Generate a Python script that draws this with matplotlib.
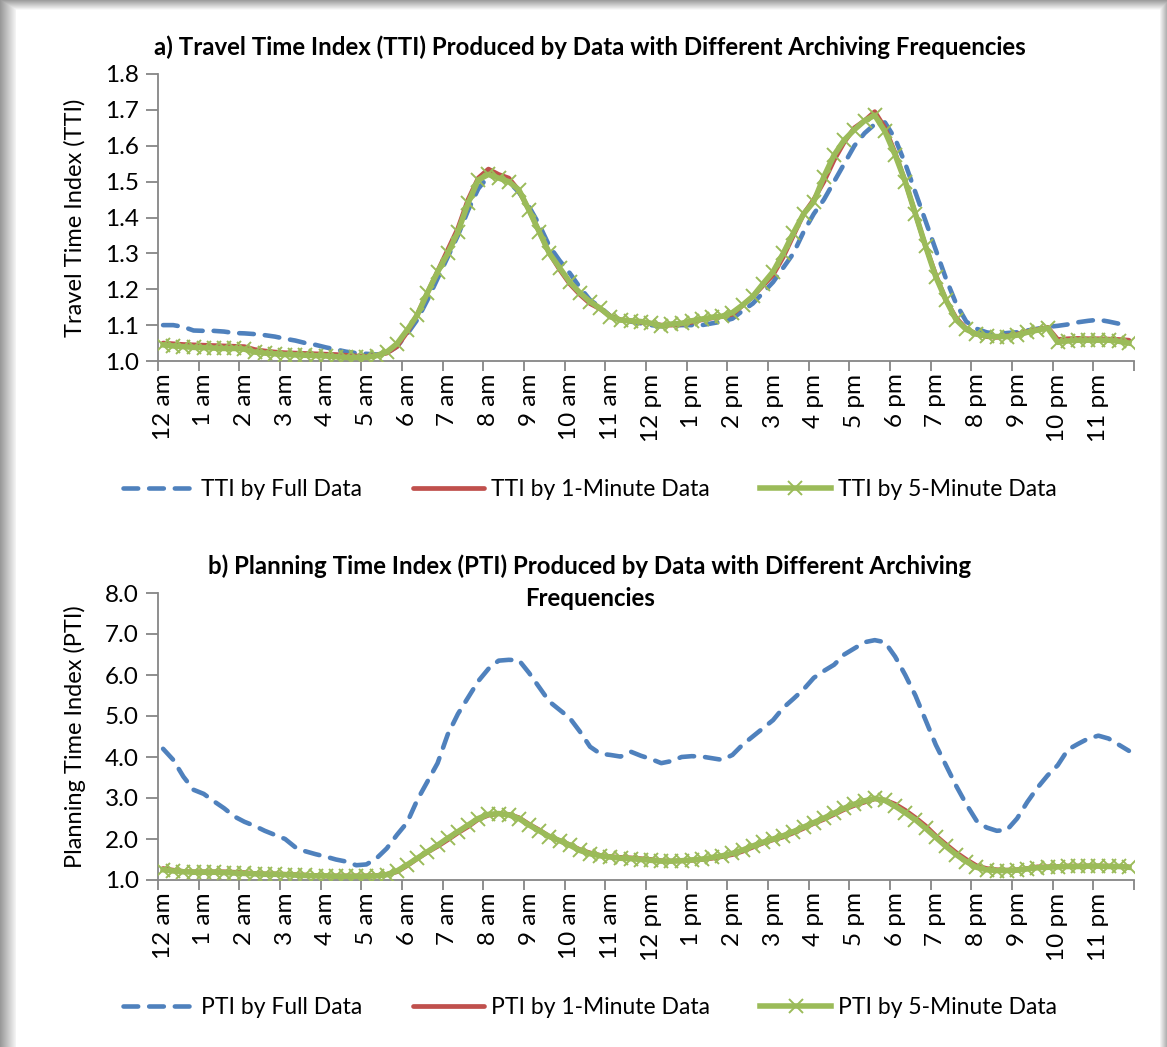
import numpy as np
import matplotlib.pyplot as plt

plt.rcParams['font.family'] = ['Lato', 'DejaVu Sans']

# Daten (15-Minuten-Intervalle, 96 Werte pro Reihe)
hour_labels = ['12 am', '1 am', '2 am', '3 am', '4 am', '5 am', '6 am', '7 am',
               '8 am', '9 am', '10 am', '11 am', '12 pm', '1 pm', '2 pm', '3 pm',
               '4 pm', '5 pm', '6 pm', '7 pm', '8 pm', '9 pm', '10 pm', '11 pm']

tti_full = [1.100, 1.100, 1.095, 1.085, 1.084, 1.084, 1.082, 1.078,
            1.077, 1.075, 1.072, 1.068, 1.062, 1.057, 1.050, 1.045,
            1.038, 1.032, 1.026, 1.022, 1.020, 1.018, 1.022, 1.040,
            1.075, 1.115, 1.170, 1.230, 1.290, 1.350, 1.420, 1.480,
            1.515, 1.515, 1.500, 1.470, 1.430, 1.380, 1.320, 1.280,
            1.245, 1.205, 1.170, 1.150, 1.125, 1.115, 1.110, 1.105,
            1.100, 1.097, 1.098, 1.100, 1.100, 1.100, 1.105, 1.110,
            1.118, 1.140, 1.160, 1.190, 1.220, 1.260, 1.300, 1.360,
            1.410, 1.450, 1.500, 1.550, 1.600, 1.635, 1.660, 1.665,
            1.620, 1.550, 1.470, 1.390, 1.310, 1.230, 1.160, 1.110,
            1.090, 1.080, 1.075, 1.078, 1.080, 1.085, 1.090, 1.095,
            1.098, 1.102, 1.108, 1.112, 1.115, 1.110, 1.104, 1.100]

tti_1min = [1.050, 1.048, 1.046, 1.045, 1.044, 1.043, 1.042, 1.041,
            1.040, 1.032, 1.028, 1.025, 1.023, 1.022, 1.021, 1.020,
            1.019, 1.018, 1.016, 1.014, 1.013, 1.016, 1.022, 1.040,
            1.080, 1.130, 1.190, 1.250, 1.310, 1.370, 1.450, 1.510,
            1.535, 1.520, 1.510, 1.475, 1.420, 1.360, 1.300, 1.255,
            1.215, 1.185, 1.160, 1.145, 1.125, 1.115, 1.112, 1.108,
            1.105, 1.100, 1.100, 1.103, 1.108, 1.115, 1.120, 1.124,
            1.130, 1.155, 1.180, 1.210, 1.240, 1.290, 1.350, 1.410,
            1.450, 1.500, 1.560, 1.610, 1.650, 1.670, 1.695, 1.650,
            1.580, 1.500, 1.410, 1.320, 1.240, 1.170, 1.120, 1.090,
            1.075, 1.068, 1.066, 1.070, 1.075, 1.082, 1.088, 1.094,
            1.060, 1.062, 1.063, 1.062, 1.062, 1.061, 1.060, 1.058]

tti_5min = [1.045, 1.042, 1.040, 1.038, 1.037, 1.036, 1.035, 1.035,
            1.033, 1.025, 1.022, 1.020, 1.018, 1.017, 1.016, 1.015,
            1.014, 1.012, 1.010, 1.010, 1.010, 1.015, 1.025, 1.048,
            1.086, 1.128, 1.190, 1.248, 1.300, 1.360, 1.440, 1.505,
            1.520, 1.510, 1.500, 1.477, 1.420, 1.360, 1.300, 1.260,
            1.220, 1.190, 1.165, 1.147, 1.123, 1.114, 1.112, 1.110,
            1.105, 1.098, 1.103, 1.105, 1.112, 1.117, 1.122, 1.125,
            1.135, 1.156, 1.180, 1.215, 1.249, 1.300, 1.357, 1.410,
            1.444, 1.514, 1.574, 1.616, 1.645, 1.670, 1.685, 1.640,
            1.575, 1.500, 1.410, 1.320, 1.235, 1.170, 1.115, 1.088,
            1.075, 1.070, 1.068, 1.068, 1.072, 1.080, 1.086, 1.092,
            1.052, 1.056, 1.058, 1.058, 1.058, 1.058, 1.055, 1.050]

pti_full = [4.20, 3.93, 3.52, 3.20, 3.10, 2.92, 2.75, 2.55,
            2.42, 2.32, 2.20, 2.10, 2.00, 1.80, 1.70, 1.63,
            1.57, 1.50, 1.45, 1.36, 1.38, 1.53, 1.77, 2.10,
            2.40, 2.95, 3.40, 3.85, 4.55, 5.05, 5.45, 5.85,
            6.15, 6.35, 6.37, 6.36, 6.05, 5.70, 5.35, 5.15,
            4.95, 4.62, 4.25, 4.08, 4.05, 4.01, 4.13, 4.03,
            3.95, 3.85, 3.90, 4.00, 4.02, 4.01, 3.97, 3.93,
            4.05, 4.30, 4.50, 4.70, 4.90, 5.20, 5.42, 5.65,
            5.93, 6.10, 6.25, 6.50, 6.65, 6.80, 6.85, 6.80,
            6.45, 6.00, 5.50, 4.90, 4.30, 3.80, 3.30, 2.85,
            2.45, 2.28, 2.20, 2.22, 2.50, 2.90, 3.25, 3.55,
            3.80, 4.18, 4.32, 4.45, 4.52, 4.45, 4.30, 4.15]

pti_1min = [1.28, 1.24, 1.21, 1.20, 1.20, 1.20, 1.20, 1.19,
            1.18, 1.16, 1.15, 1.15, 1.14, 1.13, 1.12, 1.11,
            1.10, 1.10, 1.10, 1.10, 1.10, 1.11, 1.14, 1.20,
            1.35, 1.52, 1.68, 1.82, 1.98, 2.15, 2.30, 2.48,
            2.58, 2.62, 2.60, 2.52, 2.36, 2.22, 2.06, 1.96,
            1.86, 1.74, 1.66, 1.60, 1.57, 1.55, 1.54, 1.52,
            1.50, 1.47, 1.46, 1.47, 1.48, 1.50, 1.53, 1.57,
            1.62, 1.70, 1.80, 1.90, 1.98, 2.05, 2.15, 2.26,
            2.38, 2.48, 2.60, 2.72, 2.82, 2.90, 2.98, 2.95,
            2.85, 2.70, 2.52, 2.32, 2.08, 1.87, 1.67, 1.50,
            1.35, 1.28, 1.25, 1.24, 1.25, 1.28, 1.32, 1.32,
            1.33, 1.34, 1.34, 1.34, 1.34, 1.34, 1.33, 1.32]

pti_5min = [1.25, 1.22, 1.20, 1.19, 1.19, 1.19, 1.18, 1.17,
            1.16, 1.15, 1.14, 1.14, 1.13, 1.12, 1.11, 1.10,
            1.10, 1.09, 1.09, 1.09, 1.09, 1.10, 1.13, 1.22,
            1.37, 1.53, 1.69, 1.85, 2.02, 2.18, 2.34, 2.50,
            2.60, 2.62, 2.59, 2.50, 2.34, 2.20, 2.06, 1.96,
            1.85, 1.72, 1.64, 1.59, 1.56, 1.53, 1.52, 1.50,
            1.48, 1.46, 1.46, 1.47, 1.49, 1.51, 1.55, 1.59,
            1.65, 1.73, 1.83, 1.92, 2.00, 2.08, 2.18, 2.29,
            2.40, 2.51, 2.63, 2.75, 2.85, 2.93, 2.99, 2.94,
            2.80, 2.64, 2.47, 2.26, 2.04, 1.82, 1.62, 1.45,
            1.31, 1.25, 1.23, 1.23, 1.24, 1.27, 1.30, 1.31,
            1.32, 1.33, 1.33, 1.34, 1.34, 1.33, 1.33, 1.31]

BLUE = '#4F81BD'
RED = '#C0504D'
GREEN = '#9BBB59'
AXGRAY = '#868686'

fig = plt.figure(figsize=(11.67, 10.47), dpi=100)
H, W = 1047, 1167

# grauer Schatten am Rand (wie im Screenshot)
bg = fig.add_axes([0, 0, 1, 1], zorder=-1)
img = np.ones((H, W))
left = np.clip(0.60 + 0.35 * np.arange(16) / 15, 0, 1)
img[:, :16] = np.minimum(img[:, :16], left[None, :])
top = np.clip(0.62 + 0.35 * np.arange(10) / 9, 0, 1)
img[:10, :] = np.minimum(img[:10, :], top[:, None])
right = np.clip(0.95 - 0.25 * np.arange(7) / 6, 0, 1)
img[:, W - 7:] = np.minimum(img[:, W - 7:], right[None, :])
bg.imshow(img, cmap='gray', vmin=0, vmax=1, aspect='auto', interpolation='bilinear')
bg.axis('off')

x = np.arange(96) + 0.5


def draw_panel(ax, full, one, five, ylim, yticks, ylabel, prefix):
    ax.plot(x, full, color=BLUE, lw=3.3, ls=(0, (3.2, 2.4)),
            dash_capstyle='round', label=f'{prefix} by Full Data', zorder=3)
    ax.plot(x, one, color=RED, lw=3.4, solid_capstyle='round',
            label=f'{prefix} by 1-Minute Data', zorder=4)
    ax.plot(x, five, color=GREEN, lw=4.0, marker='x', markersize=10,
            markeredgewidth=1.4, markeredgecolor=GREEN,
            label=f'{prefix} by 5-Minute Data', zorder=5)
    ax.set_xlim(0, 96)
    ax.set_ylim(*ylim)
    ax.set_yticks(yticks)
    ax.set_yticklabels(['{:.1f}'.format(v) for v in yticks])
    ax.set_xticks(np.arange(0, 97, 4))
    ax.set_xticklabels([])
    ax.set_xticks(np.arange(0, 96, 4) + 0.5, minor=True)
    ax.set_xticklabels(hour_labels, minor=True, rotation=90)
    ax.tick_params(axis='x', which='major', direction='out', length=7,
                   width=1.3, color=AXGRAY)
    ax.tick_params(axis='x', which='minor', length=0, labelsize=17.5, pad=9)
    ax.tick_params(axis='y', direction='out', length=9, width=1.3,
                   color=AXGRAY, labelsize=17.5, pad=5)
    for side in ['top', 'right']:
        ax.spines[side].set_visible(False)
    for side in ['left', 'bottom']:
        ax.spines[side].set_color(AXGRAY)
        ax.spines[side].set_linewidth(1.3)
    ax.set_ylabel(ylabel, fontsize=17)
    ax.yaxis.set_label_coords(-72 / 976, 0.5)
    return ax


ax1 = fig.add_axes([158 / W, 1 - 361 / H, 976 / W, 287 / H])
draw_panel(ax1, tti_full, tti_1min, tti_5min, (1.0, 1.8),
           np.round(np.arange(1.0, 1.81, 0.1), 1), 'Travel Time Index (TTI)', 'TTI')

ax2 = fig.add_axes([158 / W, 1 - 880 / H, 976 / W, 287 / H])
draw_panel(ax2, pti_full, pti_1min, pti_5min, (1.0, 8.0),
           np.arange(1.0, 8.01, 1.0), 'Planning Time Index (PTI)', 'PTI')

# Titel
fig.text(590 / W, 1 - 47 / H,
         'a) Travel Time Index (TTI) Produced by Data with Different Archiving Frequencies',
         ha='center', va='center', fontsize=17.3, fontweight='bold')
fig.text(590 / W, 1 - 566 / H,
         'b) Planning Time Index (PTI) Produced by Data with Different Archiving',
         ha='center', va='center', fontsize=17.3, fontweight='bold')
fig.text(590 / W, 1 - 598 / H, 'Frequencies',
         ha='center', va='center', fontsize=17.3, fontweight='bold')

for ax, ly in [(ax1, 490), (ax2, 1008)]:
    ax.legend(loc='center', bbox_to_anchor=(590 / W, 1 - ly / H),
              bbox_transform=fig.transFigure, ncol=3, frameon=False,
              fontsize=16.5, handlelength=3.1, columnspacing=2.2,
              handletextpad=0.3)

fig.savefig('out.png', dpi=100)
